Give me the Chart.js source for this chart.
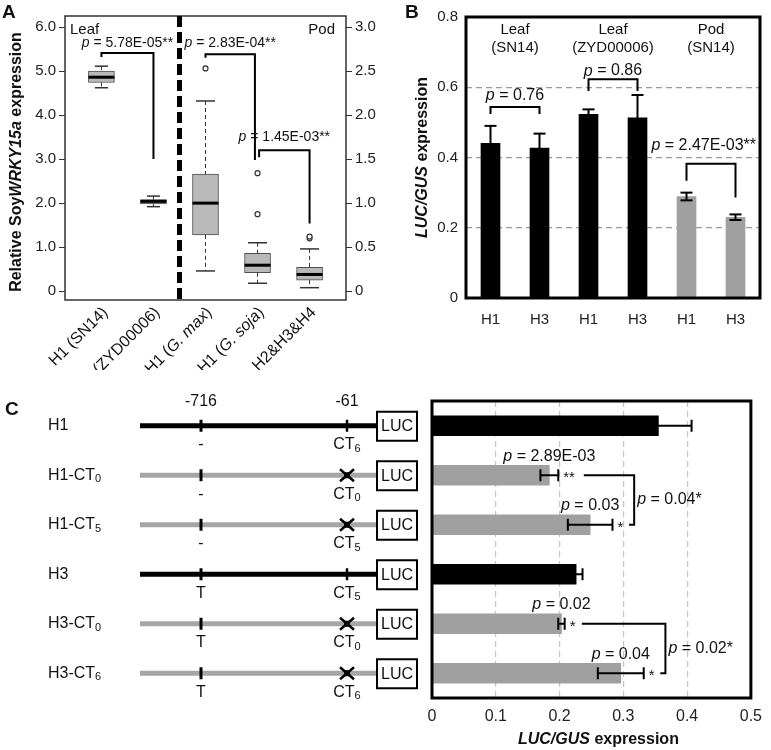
<!DOCTYPE html>
<html>
<head>
<meta charset="utf-8">
<title>SoyWRKY15a expression</title>
<script src="https://cdn.jsdelivr.net/npm/chart.js@4.4.1/dist/chart.umd.min.js"></script>
<style>
  html, body { margin: 0; padding: 0; background: #fff; }
  #page { position: relative; width: 771px; height: 750px; overflow: hidden; }
  canvas { position: absolute; }
</style>
</head>
<body>
<div id="page">
  <canvas id="chartA" width="390" height="370" style="left:0;top:0"></canvas>
  <canvas id="chartB" width="381" height="370" style="left:390px;top:0"></canvas>
  <canvas id="chartC" width="771" height="380" style="left:0;top:370px"></canvas>
</div>
<script>
// ---------- panel A: boxplots (leaf -> left axis, pod -> right axis) ----------
const leafCats = ['H1 (SN14)', 'H3 (ZYD00006)'];
const leafMin = [4.62, 1.92];
const leafQ1 = [4.74, 1.98];
const leafMed = [4.86, 2.04];
const leafQ3 = [5.0, 2.08];
const leafMax = [5.11, 2.16];
const leafOutliers = [[], []];

const podCats = ['H1 (G. max)', 'H1 (G. soja)', 'H2&H3&H4'];
const podMin = [0.23, 0.09, 0.04];
const podQ1 = [0.64, 0.21, 0.125];
const podMed = [1.0, 0.295, 0.19];
const podQ3 = [1.33, 0.43, 0.27];
const podMax = [2.16, 0.55, 0.48];
const podOutliers = [[2.53], [1.34, 0.875], [0.6, 0.62]];

const leafTicks = [0, 1, 2, 3, 4, 5, 6];
const podTicks = [0, 0.5, 1, 1.5, 2, 2.5, 3];

// brackets: category index range, levels on the named axis
const aBrackets = [
  { axis: 'y', from: 0, to: 1, top: 5.41, leftEnd: 5.32, rightEnd: 3.0, p: '5.78E-05**', textAt: 5.64 },
  { axis: 'y2', from: 2, to: 2.95, top: 2.69, leftEnd: 2.65, rightEnd: 1.49, p: '2.83E-04**', textAt: 2.82 },
  { axis: 'y2', from: 3.03, to: 4, top: 1.60, leftEnd: 1.52, rightEnd: 0.77, p: '1.45E-03**', textAt: 1.75 }
];

// ---------- panel B: LUC/GUS bars ----------
const bGenotypes = ['H1', 'H3', 'H1', 'H3', 'H1', 'H3'];
const bValues = [0.44, 0.427, 0.523, 0.513, 0.289, 0.23];
const bErrors = [0.05, 0.041, 0.014, 0.065, 0.011, 0.008];
const bTissue = ['leaf', 'leaf', 'leaf', 'leaf', 'pod', 'pod'];
const bGroups = [['Leaf', '(SN14)'], ['Leaf', '(ZYD00006)'], ['Pod', '(SN14)']];
const bTicks = [0, 0.2, 0.4, 0.6, 0.8];
const bBrackets = [
  { from: 0, to: 1, top: 0.544, leftEnd: 0.524, rightEnd: 0.524, p: '0.76', textAt: 0.575 },
  { from: 2, to: 3, top: 0.623, leftEnd: 0.589, rightEnd: 0.589, p: '0.86', textAt: 0.646 },
  { from: 4, to: 5, top: 0.382, leftEnd: 0.334, rightEnd: 0.286, p: '2.47E-03**', textAt: 0.433 }
];

// ---------- panel C: constructs + horizontal bars ----------
const cConstructs = ['H1', 'H1-CT0', 'H1-CT5', 'H3', 'H3-CT0', 'H3-CT6'];
const cValues = [0.355, 0.184, 0.248, 0.226, 0.203, 0.296];
const cErrors = [0.052, 0.014, 0.035, 0.010, 0.005, 0.036];
const cMutated = [false, true, true, false, true, true];
const cSite716 = ['-', '-', '-', 'T', 'T', 'T'];
const cCTRepeat = ['6', '0', '5', '5', '0', '6'];
const cStars = ['', '**', '*', '', '*', '*'];
const cPvals = [null, '2.89E-03', '0.03', null, '0.02', '0.04'];
const cTicks = [0, 0.1, 0.2, 0.3, 0.4, 0.5];
const cBrackets = [
  { from: 1, to: 2, at: 0.317, fromStart: 0.238, toStart: 0.309, p: '0.04*' },
  { from: 4, to: 5, at: 0.366, fromStart: 0.235, toStart: 0.358, p: '0.02*' }
];

const FF = '"Liberation Sans", Arial, Helvetica, sans-serif';
Chart.defaults.font.family = FF;
Chart.defaults.color = '#222';
const BLACK = '#000';
const GREY = '#a0a0a0';

// draw a run of differently styled text pieces
function drawRuns(ctx, runs, x, y, align) {
  let total = 0;
  runs.forEach(r => { ctx.font = r[1]; total += ctx.measureText(r[0]).width; });
  let cx = align === 'center' ? x - total / 2 : align === 'right' ? x - total : x;
  ctx.textAlign = 'left';
  runs.forEach(r => {
    ctx.font = r[1];
    ctx.fillText(r[0], cx, y + (r[2] || 0));
    cx += ctx.measureText(r[0]).width;
  });
  return total;
}
function runsWidth(ctx, runs) {
  let t = 0;
  runs.forEach(r => { ctx.font = r[1]; t += ctx.measureText(r[0]).width; });
  return t;
}
function pRuns(txt, size) {
  return [['p', `italic ${size}px ${FF}`], [' = ' + txt, `${size}px ${FF}`]];
}
function seg(ctx, x1, y1, x2, y2) {
  ctx.beginPath(); ctx.moveTo(x1, y1); ctx.lineTo(x2, y2); ctx.stroke();
}
function catRuns(label, size) {
  // italicise species names like "G. max"
  const m = label.match(/^(.*?)(G\. \w+)(.*)$/);
  const n = `${size}px ${FF}`, it = `italic ${size}px ${FF}`;
  if (!m) return [[label, n]];
  return [[m[1], n], [m[2], it], [m[3], n]];
}

// ================= chart A =================
const boxPlotA = {
  id: 'boxPlotA',
  afterDatasetsDraw(chart) {
    const { ctx, chartArea: ca, scales } = chart;
    const x = scales.x;
    const groups = [
      { scale: scales.y, first: 0, cap: 13, min: leafMin, q1: leafQ1, med: leafMed, q3: leafQ3, max: leafMax, out: leafOutliers },
      { scale: scales.y2, first: leafCats.length, cap: 19, min: podMin, q1: podQ1, med: podMed, q3: podQ3, max: podMax, out: podOutliers }
    ];
    ctx.save();
    groups.forEach(g => {
      g.med.forEach((m, i) => {
        const cx = x.getPixelForValue(g.first + i);
        const py = v => g.scale.getPixelForValue(v);
        ctx.strokeStyle = '#333';
        ctx.lineWidth = 1;
        ctx.setLineDash([4, 3]);
        seg(ctx, cx, py(g.max[i]), cx, py(g.q3[i]));
        seg(ctx, cx, py(g.q1[i]), cx, py(g.min[i]));
        ctx.setLineDash([]);
        ctx.lineWidth = 1.5;
        seg(ctx, cx - g.cap / 2, py(g.max[i]), cx + g.cap / 2, py(g.max[i]));
        seg(ctx, cx - g.cap / 2, py(g.min[i]), cx + g.cap / 2, py(g.min[i]));
        ctx.strokeStyle = '#000';
        ctx.lineWidth = 3;
        seg(ctx, cx - 13, py(m), cx + 13, py(m));
        ctx.strokeStyle = '#333';
        ctx.lineWidth = 1.2;
        ctx.fillStyle = '#fff';
        g.out[i].forEach(o => {
          ctx.beginPath(); ctx.arc(cx, py(o), 2.5, 0, 2 * Math.PI); ctx.fill(); ctx.stroke();
        });
      });
    });

    // frame
    ctx.strokeStyle = '#333';
    ctx.lineWidth = 1.5;
    ctx.strokeRect(ca.left, ca.top, ca.width, ca.height);

    // leaf | pod divider
    const dx = x.getPixelForValue(leafCats.length - 0.5);
    ctx.strokeStyle = '#000';
    ctx.lineWidth = 5;
    ctx.setLineDash([11, 5]);
    seg(ctx, dx, ca.top, dx, ca.bottom);
    ctx.setLineDash([]);

    // tissue labels
    ctx.fillStyle = '#111';
    ctx.textBaseline = 'middle';
    ctx.font = `15px ${FF}`;
    ctx.textAlign = 'left';
    ctx.fillText('Leaf', ca.left + 5, 30);
    ctx.textAlign = 'right';
    ctx.fillText('Pod', ca.right - 11, 30);

    // brackets
    ctx.lineWidth = 2;
    ctx.strokeStyle = '#000';
    aBrackets.forEach(b => {
      const s = scales[b.axis];
      const x1 = x.getPixelForValue(b.from), x2 = x.getPixelForValue(b.to);
      ctx.beginPath();
      ctx.moveTo(x1, s.getPixelForValue(b.leftEnd));
      ctx.lineTo(x1, s.getPixelForValue(b.top));
      ctx.lineTo(x2, s.getPixelForValue(b.top));
      ctx.lineTo(x2, s.getPixelForValue(b.rightEnd));
      ctx.stroke();
      drawRuns(ctx, pRuns(b.p, 14), (x1 + x2) / 2, s.getPixelForValue(b.textAt), 'center');
    });

    // rotated category labels
    const cats = leafCats.concat(podCats);
    cats.forEach((c, i) => {
      const cx = x.getPixelForValue(i);
      ctx.save();
      ctx.translate(cx + 4, ca.bottom + 10);
      ctx.rotate(-Math.PI / 4);
      ctx.textBaseline = 'middle';
      drawRuns(ctx, catRuns(c, 16), 0, 0, 'right');
      ctx.restore();
    });

    // y title
    ctx.save();
    ctx.translate(17, (ca.top + ca.bottom) / 2 + 4);
    ctx.rotate(-Math.PI / 2);
    ctx.textBaseline = 'middle';
    drawRuns(ctx, [
      ['Relative Soy', `bold 16px ${FF}`],
      ['WRKY15a', `italic bold 16px ${FF}`],
      [' expression', `bold 16px ${FF}`]
    ], 0, 0, 'center');
    ctx.restore();

    // panel letter
    ctx.font = `bold 19px ${FF}`;
    ctx.textAlign = 'left';
    ctx.textBaseline = 'alphabetic';
    ctx.fillText('A', 2, 18);
    ctx.restore();
  }
};

const boxStyle = {
  grouped: false,
  barThickness: 26,
  backgroundColor: '#b9b9b9',
  borderColor: '#4d4d4d',
  borderWidth: 1,
  borderSkipped: false
};

new Chart(document.getElementById('chartA'), {
  type: 'bar',
  data: {
    datasets: [
      Object.assign({
        label: 'Leaf',
        yAxisID: 'y',
        data: leafCats.map((c, i) => ({ x: i, y: [leafQ1[i], leafQ3[i]] }))
      }, boxStyle),
      Object.assign({
        label: 'Pod',
        yAxisID: 'y2',
        data: podCats.map((c, i) => ({ x: leafCats.length + i, y: [podQ1[i], podQ3[i]] }))
      }, boxStyle)
    ]
  },
  options: {
    responsive: false,
    animation: false,
    layout: { padding: { left: 35, right: 14, top: 16, bottom: 70 } },
    plugins: { legend: { display: false }, tooltip: { enabled: false }, colors: { enabled: false } },
    scales: {
      x: { type: 'linear', min: -0.7, max: 4.7, offset: false, display: false },
      y: {
        position: 'left',
        min: -0.2,
        max: 6.25,
        afterBuildTicks: s => { s.ticks = leafTicks.map(v => ({ value: v })); },
        afterFit: s => { s.width = 30; },
        ticks: { padding: 3, font: { size: 15 }, color: '#222', callback: v => v === 0 ? '0' : v.toFixed(1) },
        grid: { drawOnChartArea: false, drawTicks: true, tickLength: 6, color: '#333' },
        border: { display: false }
      },
      y2: {
        position: 'right',
        min: -0.1,
        max: 3.125,
        afterBuildTicks: s => { s.ticks = podTicks.map(v => ({ value: v })); },
        afterFit: s => { s.width = 30; },
        ticks: { padding: 3, font: { size: 15 }, color: '#222', callback: v => v === 0 ? '0' : v.toFixed(1) },
        grid: { drawOnChartArea: false, drawTicks: true, tickLength: 6, color: '#333' },
        border: { display: false }
      }
    }
  },
  plugins: [boxPlotA]
});

// ================= chart B =================
const decorB = {
  id: 'decorB',
  afterDatasetsDraw(chart) {
    const { ctx, chartArea: ca, scales: { x, y } } = chart;
    ctx.save();
    // error bars
    ctx.strokeStyle = '#000';
    ctx.lineWidth = 2;
    bValues.forEach((v, i) => {
      const cx = x.getPixelForValue(i);
      const yt = y.getPixelForValue(v + bErrors[i]), yb = y.getPixelForValue(v - bErrors[i]);
      seg(ctx, cx, yt, cx, yb);
      seg(ctx, cx - 6, yt, cx + 6, yt);
      seg(ctx, cx - 6, yb, cx + 6, yb);
    });
    // frame
    ctx.lineWidth = 3;
    ctx.strokeRect(ca.left, ca.top, ca.width, ca.height);

    // group labels
    ctx.fillStyle = '#111';
    ctx.font = `15px ${FF}`;
    ctx.textAlign = 'center';
    ctx.textBaseline = 'middle';
    bGroups.forEach((g, k) => {
      const cx = (x.getPixelForValue(2 * k) + x.getPixelForValue(2 * k + 1)) / 2;
      ctx.fillText(g[0], cx, 30);
      ctx.fillText(g[1], cx, 48);
    });

    // brackets
    ctx.lineWidth = 2;
    bBrackets.forEach(b => {
      const x1 = x.getPixelForValue(b.from), x2 = x.getPixelForValue(b.to);
      ctx.beginPath();
      ctx.moveTo(x1, y.getPixelForValue(b.leftEnd));
      ctx.lineTo(x1, y.getPixelForValue(b.top));
      ctx.lineTo(x2, y.getPixelForValue(b.top));
      ctx.lineTo(x2, y.getPixelForValue(b.rightEnd));
      ctx.stroke();
      const runs = pRuns(b.p, 16);
      const w = runsWidth(ctx, runs);
      const cx = Math.min((x1 + x2) / 2, ca.right - 4 - w / 2);
      drawRuns(ctx, runs, cx, y.getPixelForValue(b.textAt), 'center');
    });

    // y title
    ctx.save();
    ctx.translate(33, (ca.top + ca.bottom) / 2);
    ctx.rotate(-Math.PI / 2);
    ctx.textBaseline = 'middle';
    drawRuns(ctx, [
      ['LUC/GUS', `italic bold 16px ${FF}`],
      [' expression', `bold 16px ${FF}`]
    ], 0, 0, 'center');
    ctx.restore();

    ctx.font = `bold 19px ${FF}`;
    ctx.textAlign = 'left';
    ctx.textBaseline = 'alphabetic';
    ctx.fillStyle = '#111';
    ctx.fillText('B', 15, 18);
    ctx.restore();
  }
};

new Chart(document.getElementById('chartB'), {
  type: 'bar',
  data: {
    labels: bGenotypes,
    datasets: [{
      label: 'LUC/GUS',
      data: bValues,
      backgroundColor: bTissue.map(t => t === 'pod' ? GREY : BLACK),
      barThickness: 19
    }]
  },
  options: {
    responsive: false,
    animation: false,
    layout: { padding: { left: 46, right: 11, top: 16, bottom: 32 } },
    plugins: { legend: { display: false }, tooltip: { enabled: false } },
    scales: {
      x: {
        grid: { display: false },
        border: { display: false },
        ticks: { padding: 5, font: { size: 15 }, color: '#222' },
        afterFit: s => { s.height = 40; }
      },
      y: {
        min: 0,
        max: 0.8,
        afterBuildTicks: s => { s.ticks = bTicks.map(v => ({ value: v })); },
        afterFit: s => { s.width = 30; },
        ticks: { padding: 8, font: { size: 15 }, color: '#222', callback: v => v === 0 ? '0' : v.toFixed(1) },
        grid: {
          drawTicks: false,
          lineWidth: 1.3,
          borderDash: [6, 4],
          color: c => (c.tick && c.tick.value > 0.01 && c.tick.value < 0.79) ? '#9a9a9a' : 'rgba(0,0,0,0)'
        },
        border: { display: false, dash: [6, 4] }
      }
    }
  },
  plugins: [decorB]
});

// ================= chart C =================
const DIAG = { start: 140, site716: 201, site61: 347, lucL: 377, lucR: 417, labelX: 48 };

const decorC = {
  id: 'decorC',
  afterDatasetsDraw(chart) {
    const { ctx, chartArea: ca, scales: { x, y } } = chart;
    ctx.save();
    // error bars, stars, p values
    ctx.strokeStyle = '#000';
    ctx.fillStyle = '#111';
    ctx.lineWidth = 2;
    cValues.forEach((v, i) => {
      const cy = y.getPixelForValue(i);
      const xl = x.getPixelForValue(v - cErrors[i]), xr = x.getPixelForValue(v + cErrors[i]);
      seg(ctx, xl, cy, xr, cy);
      seg(ctx, xl, cy - 6, xl, cy + 6);
      seg(ctx, xr, cy - 6, xr, cy + 6);
      ctx.textBaseline = 'middle';
      if (cStars[i]) {
        ctx.font = `15px ${FF}`;
        ctx.textAlign = 'left';
        ctx.fillText(cStars[i], xr + 5, cy + 3);
      }
      if (cPvals[i]) {
        drawRuns(ctx, pRuns(cPvals[i], 16), x.getPixelForValue(v), cy - 19, 'center');
      }
    });
    // brackets between constructs
    cBrackets.forEach(b => {
      const y1 = y.getPixelForValue(b.from), y2 = y.getPixelForValue(b.to), xv = x.getPixelForValue(b.at);
      ctx.beginPath();
      ctx.moveTo(x.getPixelForValue(b.fromStart), y1);
      ctx.lineTo(xv, y1);
      ctx.lineTo(xv, y2);
      ctx.lineTo(x.getPixelForValue(b.toStart), y2);
      ctx.stroke();
      ctx.textBaseline = 'middle';
      drawRuns(ctx, pRuns(b.p, 16), xv + 3, (y1 + y2) / 2, 'left');
    });
    // frame
    ctx.lineWidth = 3;
    ctx.strokeRect(ca.left, ca.top, ca.width, ca.height);

    // x title
    ctx.textBaseline = 'middle';
    drawRuns(ctx, [
      ['LUC/GUS', `italic bold 16px ${FF}`],
      [' expression', `bold 16px ${FF}`]
    ], (ca.left + ca.right) / 2 + 7, ca.bottom + 42, 'center');

    // construct diagrams
    const n16 = `16px ${FF}`, sub = `11px ${FF}`;
    const firstY = y.getPixelForValue(0);
    ctx.font = n16;
    ctx.textAlign = 'center';
    ctx.fillText('-716', DIAG.site716, firstY - 24);
    ctx.fillText('-61', DIAG.site61, firstY - 24);
    cConstructs.forEach((name, i) => {
      const cy = y.getPixelForValue(i);
      const mut = cMutated[i];
      // promoter line
      ctx.strokeStyle = mut ? '#a6a6a6' : '#000';
      ctx.lineWidth = 5;
      seg(ctx, DIAG.start, cy, DIAG.lucL, cy);
      // -716 site
      ctx.strokeStyle = '#000';
      ctx.lineWidth = 3;
      seg(ctx, DIAG.site716, cy - 6, DIAG.site716, cy + 6);
      // -61 CT site
      if (mut) {
        ctx.lineWidth = 2.5;
        seg(ctx, DIAG.site61 - 7, cy - 6, DIAG.site61 + 7, cy + 6);
        seg(ctx, DIAG.site61 - 7, cy + 6, DIAG.site61 + 7, cy - 6);
        ctx.fillStyle = '#000';
        ctx.fillRect(DIAG.site61 - 3, cy - 3, 6, 6);
      } else {
        ctx.lineWidth = 2.5;
        seg(ctx, DIAG.site61, cy - 6, DIAG.site61, cy + 6);
      }
      // LUC box
      ctx.fillStyle = '#fff';
      ctx.lineWidth = 2;
      ctx.fillRect(DIAG.lucL, cy - 14, DIAG.lucR - DIAG.lucL, 29);
      ctx.strokeRect(DIAG.lucL, cy - 14, DIAG.lucR - DIAG.lucL, 29);
      ctx.fillStyle = '#111';
      ctx.textBaseline = 'middle';
      ctx.font = n16;
      ctx.textAlign = 'center';
      ctx.fillText('LUC', (DIAG.lucL + DIAG.lucR) / 2, cy + 1);
      // site labels
      ctx.fillText(cSite716[i], DIAG.site716, cy + 19);
      drawRuns(ctx, [['CT', n16], [cCTRepeat[i], sub, 4]], DIAG.site61, cy + 19, 'center');
      // construct name
      const m = name.match(/^(.*CT)(\d)$/);
      const runs = m ? [[m[1], n16], [m[2], sub, 4]] : [[name, n16]];
      drawRuns(ctx, runs, DIAG.labelX, cy, 'left');
    });

    ctx.font = `bold 19px ${FF}`;
    ctx.textAlign = 'left';
    ctx.textBaseline = 'alphabetic';
    ctx.fillStyle = '#111';
    ctx.fillText('C', 5, 45);
    ctx.restore();
  }
};

new Chart(document.getElementById('chartC'), {
  type: 'bar',
  data: {
    labels: cConstructs,
    datasets: [{
      label: 'LUC/GUS',
      data: cValues,
      backgroundColor: cMutated.map(m => m ? GREY : BLACK),
      barThickness: 20
    }]
  },
  options: {
    indexAxis: 'y',
    responsive: false,
    animation: false,
    layout: { padding: { left: 432, right: 11, top: 31, bottom: 7 } },
    plugins: { legend: { display: false }, tooltip: { enabled: false } },
    scales: {
      x: {
        min: 0,
        max: 0.5,
        afterBuildTicks: s => { s.ticks = cTicks.map(v => ({ value: v })); },
        afterFit: s => { s.height = 45; },
        ticks: { padding: 9, font: { size: 16 }, color: '#222', callback: v => v === 0 ? '0' : String(Math.round(v * 10) / 10) },
        grid: {
          drawTicks: false,
          lineWidth: 1.2,
          borderDash: [6, 4],
          color: c => (c.tick && c.tick.value > 0.01 && c.tick.value < 0.49) ? '#c4c4c4' : 'rgba(0,0,0,0)'
        },
        border: { display: false, dash: [6, 4] }
      },
      y: {
        ticks: { display: false },
        grid: { display: false },
        border: { display: false },
        afterFit: s => { s.width = 0; }
      }
    }
  },
  plugins: [decorC]
});
</script>
</body>
</html>
